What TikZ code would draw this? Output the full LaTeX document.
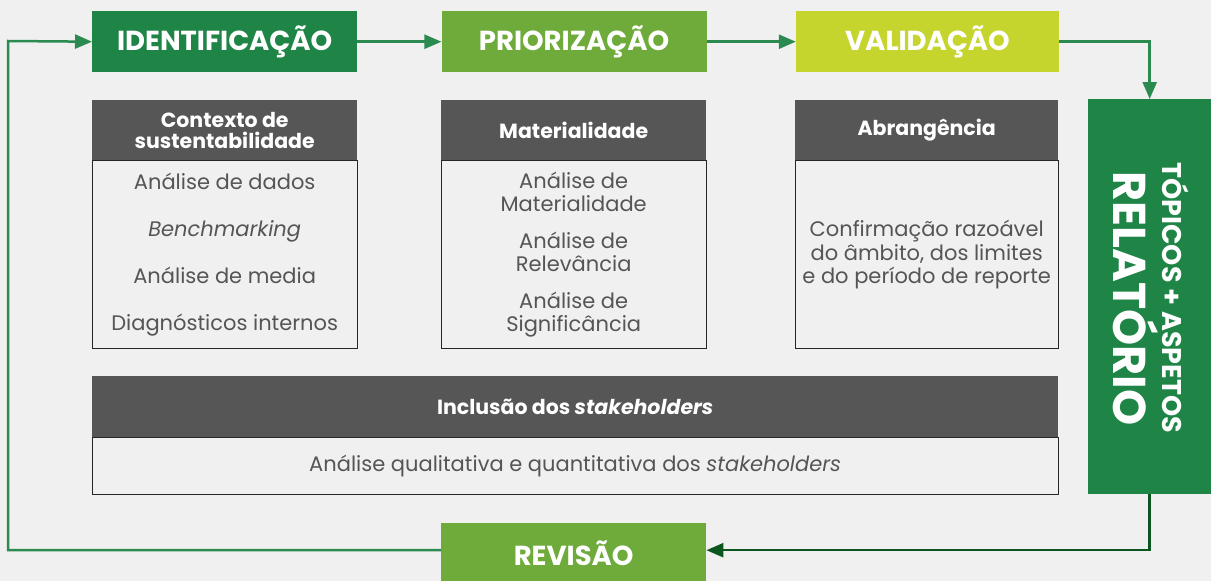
\documentclass[tikz,border=0pt]{standalone}
\usepackage{fontspec}
\setmainfont{Poppins}
\usetikzlibrary{arrows.meta, positioning}
\definecolor{dkgreen}{HTML}{1E8546}
\definecolor{ltgreen}{HTML}{6EAB3A}
\definecolor{ylgreen}{HTML}{C5D52E}
\definecolor{hdgrey}{HTML}{555655}
\definecolor{txgrey}{HTML}{555555}
\definecolor{bggrey}{HTML}{F0F0F0}
\definecolor{flowgreen}{HTML}{2A8A4F}
\definecolor{backgreen}{HTML}{0B561F}
\tikzset{
  phase/.style={fill=#1, text=white, font=\bfseries\fontsize{27.5}{31}\selectfont,
    minimum width=265pt, minimum height=61pt, inner sep=0pt},
  head/.style={fill=hdgrey, text=white, font=\bfseries\fontsize{20.5}{23}\selectfont,
    align=center, minimum width=265pt, minimum height=60pt, inner sep=0pt},
  body/.style={draw=black!85, line width=1pt, text=txgrey, align=center,
    minimum width=265pt, minimum height=188pt, inner sep=0pt},
  flow/.style={draw=flowgreen, line width=2.5pt, -{Triangle[length=17pt,width=14pt]}},
  reltext/.style={rotate=-90, anchor=base, text=white, font=\bfseries#1},
}

\begin{document}
\begin{tikzpicture}[x=1pt, y=1pt]
  \fill[bggrey] (0,0) rectangle (1211,-581);
  \useasboundingbox (0,0) rectangle (1211,-581);

  % phases
  \node[phase=dkgreen, anchor=north west] (id) at (92,-11) {IDENTIFICAÇÃO};
  \node[phase=ltgreen, right=84pt of id] (pr) {PRIORIZAÇÃO};
  \node[phase=ylgreen, right=89pt of pr, minimum width=263pt] (va) {VALIDAÇÃO};
  \node[phase=ltgreen, anchor=north west, minimum height=60pt] (rev) at (441,-523) {REVISÃO};
  \node[fill=dkgreen, anchor=north west, minimum width=123pt, minimum height=395pt,
    inner sep=0pt] (rel) at (1088,-99) {};
  \node[reltext=\fontsize{27}{30}\selectfont] (reltop) at ([xshift=12.5pt, yshift=-1pt]rel.center)
    {TÓPICOS + ASPETOS};
  \node[reltext=\fontsize{46}{50}\selectfont] (relbig) at ([xshift=-36.5pt, yshift=-2pt]rel.center)
    {RELATÓRIO};

  % boxes
  \node[head, anchor=north west] (hd1) at (92,-100) {Contexto de\\[-2pt]sustentabilidade};
  \node[body, below=0pt of hd1, font=\fontsize{21}{47}\selectfont] (bd1)
    {Análise de dados\\\textit{Benchmarking}\\Análise de media\\Diagnósticos internos};
  \node[head, anchor=north west] (hd2) at (441,-100) {Materialidade};
  \node[body, below=0pt of hd2, font=\fontsize{21}{23}\selectfont] (bd2)
    {Análise de\\Materialidade\\[14pt]Análise de\\Relevância\\[14pt]Análise de\\Significância};
  \node[head, anchor=north west, minimum width=263pt] (hd3) at (795,-100) {Abrangência};
  \node[body, below=0pt of hd3, minimum width=263pt, font=\fontsize{21}{23.5}\selectfont] (bd3)
    {Confirmação razoável\\do âmbito, dos limites\\e do período de reporte};
  \node[head, anchor=north west, minimum width=966pt, minimum height=61pt] (hd4) at (92,-376)
    {Inclusão dos \textit{stakeholders}};
  \node[body, below=0pt of hd4, minimum width=966pt, minimum height=57pt,
    font=\fontsize{21}{23}\selectfont] (bd4)
    {Análise qualitativa e quantitativa dos \textit{stakeholders}};

  % connectors
  \coordinate (lc) at (8,-41);
  \draw[flow] (id) -- (pr);
  \draw[flow] (pr) -- (va);
  \draw[flow] (va.east) -| (rel.north);
  \draw[flow, draw=backgreen] (rel.south) |- ([yshift=3pt]rev.east);
  \draw[flow] ([yshift=3pt]rev.west) -| (lc) -- (id.west);
\end{tikzpicture}
\end{document}
